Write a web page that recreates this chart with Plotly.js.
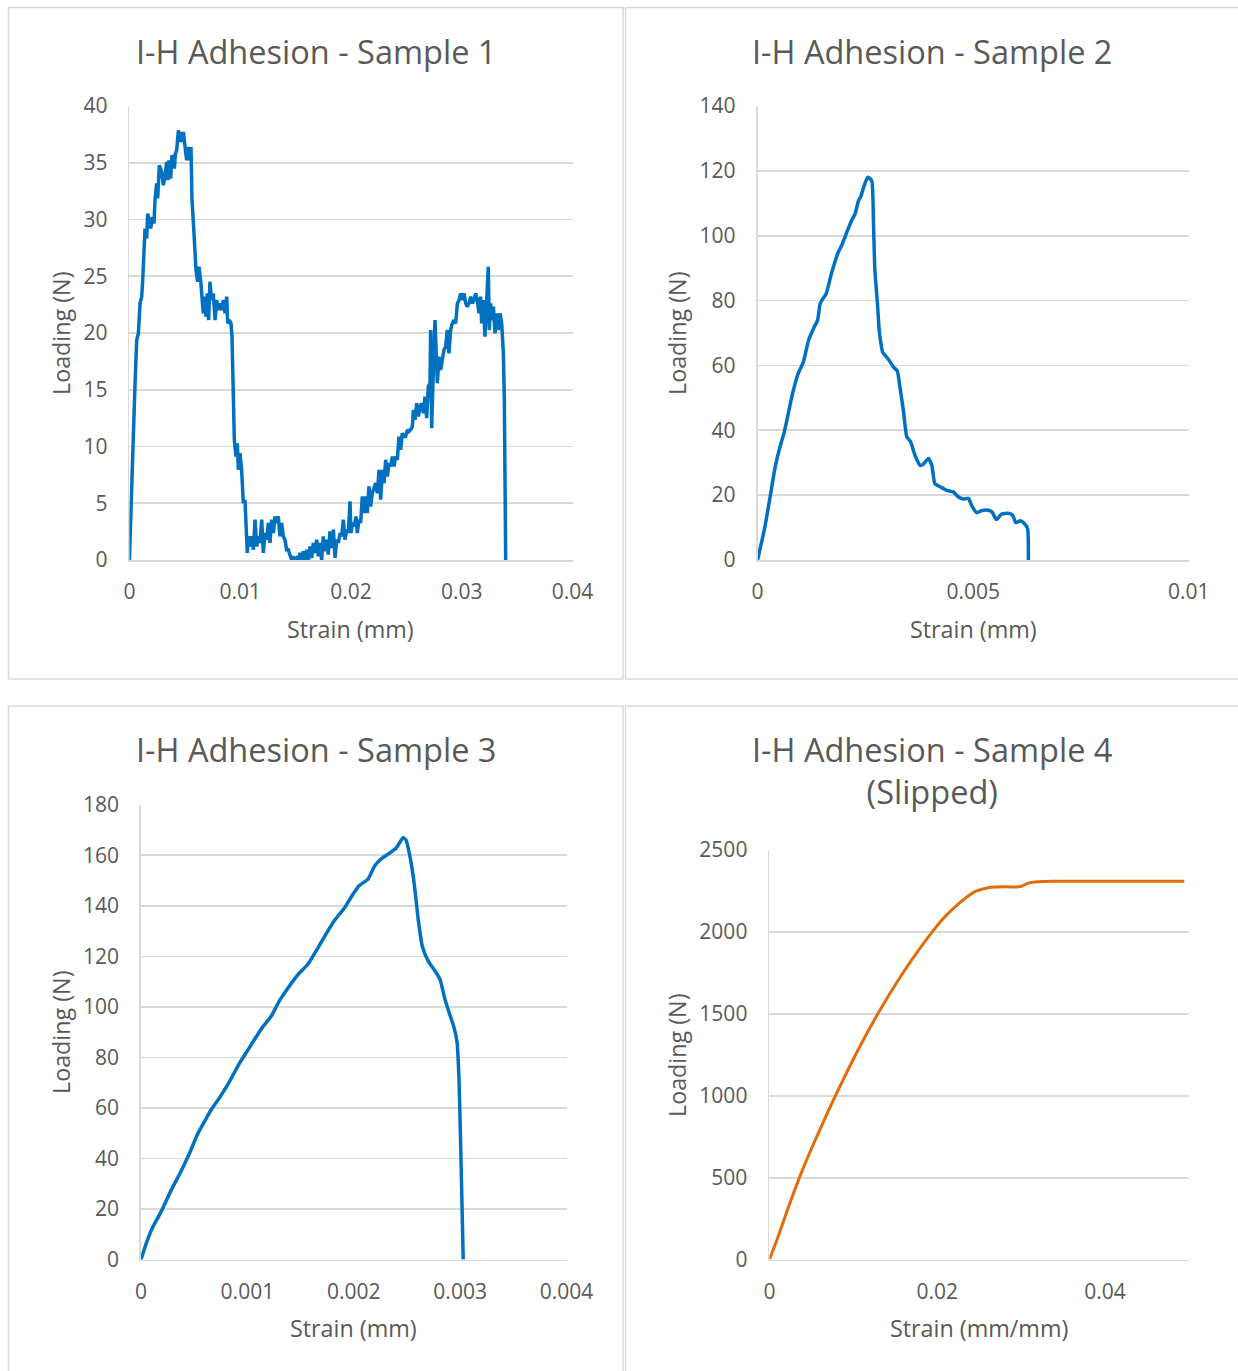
<!DOCTYPE html>
<html>
<head>
<meta charset="utf-8">
<script src="https://cdn.plot.ly/plotly-3.0.1.min.js"></script>
<style>
  html, body { margin: 0; padding: 0; background: #ffffff; }
  #chart { width: 1238px; height: 1371px; }
</style>
</head>
<body>
<div id="chart"></div>
<script>
// ---------------- DATA ----------------
const sample1Strain = [0, 0.00020, 0.00035, 0.00051, 0.00066, 0.00081, 0.00096, 0.00111, 0.00120, 0.00132, 0.00141, 0.00156, 0.00165, 0.00177, 0.00192, 0.00207, 0.00222, 0.00231, 0.00246, 0.00255, 0.00270, 0.00291, 0.00306, 0.00321, 0.00336, 0.00348, 0.00357, 0.00372, 0.00384, 0.00397, 0.00406, 0.00415, 0.00427, 0.00442, 0.00457, 0.00466, 0.00478, 0.00487, 0.00502, 0.00517, 0.00532, 0.00547, 0.00556, 0.00565, 0.00583, 0.00601, 0.00616, 0.00628, 0.00643, 0.00658, 0.00667, 0.00682, 0.00691, 0.00703, 0.00715, 0.00727, 0.00742, 0.00757, 0.00773, 0.00788, 0.00803, 0.00818, 0.00833, 0.00848, 0.00863, 0.00878, 0.00887, 0.00902, 0.00917, 0.00926, 0.00932, 0.00938, 0.00947, 0.00962, 0.00974, 0.00983, 0.00998, 0.01013, 0.01028, 0.01043, 0.01052, 0.01064, 0.01073, 0.01088, 0.01103, 0.01119, 0.01134, 0.01149, 0.01164, 0.01179, 0.01194, 0.01209, 0.01224, 0.01239, 0.01254, 0.01269, 0.01284, 0.01299, 0.01314, 0.01329, 0.01344, 0.01359, 0.01374, 0.01389, 0.01404, 0.01419, 0.01434, 0.01449, 0.01464, 0.01480, 0.01495, 0.01510, 0.01525, 0.01540, 0.01555, 0.01570, 0.01585, 0.01600, 0.01615, 0.01630, 0.01645, 0.01660, 0.01675, 0.01690, 0.01705, 0.01720, 0.01735, 0.01750, 0.01765, 0.01780, 0.01795, 0.01810, 0.01826, 0.01841, 0.01856, 0.01871, 0.01886, 0.01901, 0.01916, 0.01931, 0.01946, 0.01961, 0.01976, 0.01991, 0.02000, 0.02015, 0.02030, 0.02045, 0.02057, 0.02072, 0.02087, 0.02102, 0.02117, 0.02132, 0.02147, 0.02162, 0.02177, 0.02192, 0.02208, 0.02223, 0.02238, 0.02253, 0.02268, 0.02283, 0.02298, 0.02313, 0.02328, 0.02343, 0.02358, 0.02373, 0.02388, 0.02403, 0.02418, 0.02433, 0.02448, 0.02463, 0.02478, 0.02493, 0.02508, 0.02523, 0.02538, 0.02554, 0.02563, 0.02578, 0.02593, 0.02608, 0.02623, 0.02638, 0.02653, 0.02668, 0.02683, 0.02698, 0.02713, 0.02719, 0.02728, 0.02737, 0.02749, 0.02758, 0.02767, 0.02779, 0.02794, 0.02809, 0.02824, 0.02839, 0.02854, 0.02869, 0.02884, 0.02899, 0.02914, 0.02930, 0.02945, 0.02960, 0.02975, 0.02990, 0.03005, 0.03020, 0.03035, 0.03050, 0.03065, 0.03080, 0.03095, 0.03110, 0.03125, 0.03140, 0.03155, 0.03170, 0.03179, 0.03194, 0.03209, 0.03224, 0.03239, 0.03248, 0.03260, 0.03275, 0.03285, 0.03300, 0.03315, 0.03330, 0.03345, 0.03360, 0.03375, 0.03384, 0.03390, 0.03396];
const sample1Load = [0, 6.77, 10.88, 15.57, 19.38, 19.97, 22.61, 23.20, 24.66, 28.77, 29.21, 28.33, 30.53, 29.94, 29.21, 30.23, 29.65, 31.70, 33.17, 31.85, 34.78, 34.19, 33.02, 33.75, 35.07, 33.46, 35.22, 33.61, 35.66, 35.37, 34.49, 35.81, 36.10, 37.86, 36.83, 37.71, 36.83, 37.71, 36.69, 35.22, 36.39, 35.22, 36.39, 31.70, 28.77, 25.54, 24.52, 25.84, 24.66, 22.90, 21.73, 23.20, 21.44, 23.49, 21.14, 24.52, 22.90, 23.49, 21.14, 22.90, 22.02, 22.61, 22.02, 22.90, 21.73, 23.20, 20.85, 21.14, 20.85, 19.68, 17.04, 14.11, 10.59, 9.12, 10.29, 7.95, 9.41, 7.95, 5.01, 5.31, 2.96, 0.62, 2.08, 1.20, 2.08, 0.91, 3.55, 1.20, 2.08, 1.50, 3.55, 0.62, 2.38, 1.79, 3.26, 1.50, 3.55, 2.38, 3.84, 3.26, 3.84, 2.08, 3.26, 2.08, 1.79, 0.91, 0.91, 0.32, 0, 0.32, 0, 0.18, 0, 0.62, 0.03, 0.76, 0, 0.91, 0, 1.20, 0.18, 1.50, 0.62, 1.79, 0.32, 1.50, 0, 2.08, 0.76, 1.79, 0.47, 2.52, 1.06, 2.67, 0.18, 1.79, 1.50, 2.38, 2.08, 3.55, 1.79, 2.67, 2.38, 5.16, 2.38, 3.26, 2.96, 3.84, 2.38, 3.55, 3.26, 5.60, 4.13, 5.60, 4.13, 6.48, 4.72, 5.89, 6.48, 6.77, 5.89, 7.95, 5.31, 7.95, 6.77, 8.83, 7.36, 8.53, 8.24, 9.12, 8.24, 9.12, 8.83, 10.88, 9.71, 11.17, 10.88, 10.88, 11.47, 11.32, 11.47, 11.76, 13.23, 12.35, 13.81, 12.64, 13.52, 13.81, 12.93, 14.40, 12.49, 15.28, 15.57, 20.26, 11.61, 16.45, 18.80, 21.14, 17.92, 15.57, 17.92, 16.74, 17.62, 18.50, 18.80, 20.26, 18.21, 20.26, 20.85, 21.14, 20.85, 22.61, 22.90, 23.49, 22.90, 23.49, 22.61, 22.32, 22.61, 23.20, 22.61, 22.90, 23.49, 22.90, 21.73, 23.20, 20.85, 22.90, 19.68, 22.32, 25.84, 20.26, 22.61, 21.14, 22.32, 19.97, 21.73, 20.26, 21.73, 20.85, 18.21, 14.11, 8.24, 0];

const sample2Strain = [0, 0.00017, 0.00033, 0.00040, 0.00052, 0.00062, 0.00071, 0.00081, 0.00094, 0.00106, 0.00118, 0.00131, 0.00139, 0.00145, 0.00151, 0.00159, 0.00172, 0.00187, 0.00195, 0.00207, 0.00218, 0.00226, 0.00234, 0.00239, 0.00247, 0.00255, 0.00259, 0.00265, 0.00269, 0.00272, 0.00278, 0.00282, 0.00285, 0.00290, 0.00299, 0.00308, 0.00315, 0.00324, 0.00330, 0.00338, 0.00346, 0.00355, 0.00365, 0.00377, 0.00384, 0.00396, 0.00404, 0.00411, 0.00423, 0.00438, 0.00454, 0.00465, 0.00477, 0.00489, 0.00496, 0.00508, 0.00519, 0.00531, 0.00543, 0.00554, 0.00566, 0.00581, 0.00591, 0.00599, 0.00609, 0.00618, 0.00626, 0.00628];
const sample2Load = [0, 10.3, 22.6, 28.2, 34.9, 39.5, 45.1, 51.3, 57.5, 61.0, 67.7, 71.8, 73.9, 79.0, 80.5, 82.1, 88.7, 94.9, 97.0, 101.1, 104.7, 106.7, 110.8, 112.0, 115.4, 118.0, 117.8, 116.8, 102.6, 89.3, 79.0, 70.8, 67.7, 64.1, 62.6, 61.0, 59.5, 58.3, 53.4, 46.2, 38.0, 36.4, 32.3, 29.2, 29.5, 31.3, 29.2, 23.6, 22.6, 21.5, 21.0, 19.5, 18.8, 19.0, 16.9, 14.6, 15.2, 15.4, 14.9, 12.5, 14.2, 14.4, 13.9, 11.5, 12.1, 11.3, 9.7, 0];

const sample3Strain = [0, 0.0000537, 0.000111, 0.000188, 0.000284, 0.000380, 0.000457, 0.000534, 0.000591, 0.000668, 0.000745, 0.000822, 0.000917, 0.001013, 0.001129, 0.001225, 0.001301, 0.001397, 0.001474, 0.001570, 0.001666, 0.001743, 0.001820, 0.001916, 0.001992, 0.002050, 0.002134, 0.002196, 0.002261, 0.002338, 0.002395, 0.002434, 0.002464, 0.002491, 0.002530, 0.002568, 0.002607, 0.002645, 0.002703, 0.002760, 0.002810, 0.002856, 0.002894, 0.002941, 0.002971, 0.002990, 0.003010, 0.003029];
const sample3Load = [0, 6.9, 12.9, 18.9, 27.5, 35.3, 42.2, 49.9, 54.2, 59.9, 64.5, 69.7, 77.1, 83.5, 91.2, 96.4, 102.4, 108.4, 112.7, 117.0, 123.6, 129.1, 134.3, 139.4, 144.6, 148.0, 150.6, 155.8, 158.7, 160.9, 162.7, 165.2, 167.0, 166.1, 159.2, 148.9, 134.3, 123.9, 117.9, 114.5, 111.0, 103.3, 98.1, 92.1, 86.1, 70.6, 36.1, 0];

const sample4Strain = [0, 0.00099, 0.00216, 0.00381, 0.00569, 0.00758, 0.00946, 0.01134, 0.01322, 0.01511, 0.01699, 0.01887, 0.02075, 0.02264, 0.02452, 0.02569, 0.02640, 0.02828, 0.02969, 0.03016, 0.03087, 0.03205, 0.03393, 0.03864, 0.04334, 0.04946];
const sample4Load = [0, 133, 305, 531, 756, 969, 1168, 1354, 1526, 1685, 1831, 1964, 2083, 2176, 2246, 2265, 2272, 2275, 2275, 2281, 2298, 2306, 2309, 2310, 2309, 2310];

const chartTitles = ["I-H Adhesion - Sample 1", "I-H Adhesion - Sample 2", "I-H Adhesion - Sample 3", "I-H Adhesion - Sample 4<br>(Slipped)"];
const xTitles = ["Strain (mm)", "Strain (mm)", "Strain (mm)", "Strain (mm/mm)"];
const yTitle = "Loading (N)";

// ---------------- LAYOUT HELPERS ----------------
const W = 1238, H = 1371;
const px = v => v / W;
const py = v => 1 - v / H;

const BLUE = "#0070C0";
const ORANGE = "#E36C0A";
const GRID = "#d9d9d9";
const TXT = "#595959";
const FONT = "Open Sans, sans-serif";

function xAxis(left, right, range, dtick) {
  return {
    domain: [px(left), px(right)], range: range, dtick: dtick, tick0: 0,
    showgrid: false, zeroline: false, showline: true, linecolor: GRID, linewidth: 1.8,
    ticks: "", ticklabelstandoff: 12,
    tickfont: {family: FONT, size: 21, color: TXT}, fixedrange: true
  };
}
function yAxis(top, bottom, range, dtick) {
  return {
    domain: [py(bottom), py(top)], range: range, dtick: dtick, tick0: 0,
    showgrid: true, gridcolor: GRID, gridwidth: 1.8, zeroline: false,
    showline: true, linecolor: GRID, linewidth: 1.8,
    ticks: "", ticklabelstandoff: 16,
    tickfont: {family: FONT, size: 21, color: TXT}, fixedrange: true
  };
}

const traces = [
  {x: sample1Strain, y: sample1Load, xaxis: "x", yaxis: "y", type: "scatter", mode: "lines",
   line: {color: BLUE, width: 3.5}, name: "Sample 1"},
  {x: sample2Strain, y: sample2Load, xaxis: "x2", yaxis: "y2", type: "scatter", mode: "lines",
   line: {color: BLUE, width: 3.5, shape: "spline", smoothing: 0.5}, name: "Sample 2"},
  {x: sample3Strain, y: sample3Load, xaxis: "x3", yaxis: "y3", type: "scatter", mode: "lines",
   line: {color: BLUE, width: 3.5, shape: "spline", smoothing: 0.5}, name: "Sample 3"},
  {x: sample4Strain, y: sample4Load, xaxis: "x4", yaxis: "y4", type: "scatter", mode: "lines",
   line: {color: ORANGE, width: 3, shape: "spline", smoothing: 0.6}, name: "Sample 4"}
];

function ann(text, x, y, size, angle) {
  return {text: text, x: px(x), y: py(y), xref: "paper", yref: "paper",
          xanchor: "center", yanchor: "middle", showarrow: false,
          textangle: angle || 0, font: {family: FONT, size: size, color: TXT}};
}

function border(x0, y0, x1, y1) {
  return {type: "rect", xref: "paper", yref: "paper", x0: x0, y0: y0, x1: x1, y1: y1,
          line: {color: GRID, width: 1.5}, fillcolor: "rgba(0,0,0,0)", layer: "below"};
}

const layout = {
  width: W, height: H,
  margin: {l: 0, r: 0, t: 0, b: 0, pad: 0},
  paper_bgcolor: "#ffffff", plot_bgcolor: "rgba(0,0,0,0)",
  showlegend: false,
  font: {family: FONT, color: TXT},
  xaxis:  Object.assign(xAxis(129.4, 572.6, [0, 0.04], 0.01), {anchor: "y"}),
  yaxis:  Object.assign(yAxis(106, 560, [0, 40], 5), {anchor: "x"}),
  xaxis2: Object.assign(xAxis(757.6, 1188.8, [0, 0.01], 0.005), {anchor: "y2"}),
  yaxis2: Object.assign(yAxis(106, 560, [0, 140], 20), {anchor: "x2"}),
  xaxis3: Object.assign(xAxis(141, 566.5, [0, 0.004], 0.001), {anchor: "y3"}),
  yaxis3: Object.assign(yAxis(804.8, 1259.6, [0, 180], 20), {anchor: "x3"}),
  xaxis4: Object.assign(xAxis(769.4, 1188.8, [0, 0.05], 0.02), {anchor: "y4"}),
  yaxis4: Object.assign(yAxis(850, 1259.6, [0, 2500], 500), {anchor: "x4"}),
  annotations: [
    ann(chartTitles[0], 316, 52, 32.5),
    ann(chartTitles[1], 932, 52, 32.5),
    ann(chartTitles[2], 316, 750, 32.5),
    ann(chartTitles[3], 932, 771, 32.5),
    ann(xTitles[0], 350.5, 629, 23.3),
    ann(xTitles[1], 973, 629, 23.3),
    ann(xTitles[2], 353.8, 1328, 23.3),
    ann(xTitles[3], 979, 1328, 23.3),
    ann(yTitle, 61, 333, 23.3, -90),
    ann(yTitle, 677, 333, 23.3, -90),
    ann(yTitle, 61, 1032, 23.3, -90),
    ann(yTitle, 677, 1055, 23.3, -90)
  ],
  shapes: [
    border(px(8.5), py(679), px(623), py(7.5)),
    border(px(625.5), py(679), 1.01, py(7.5)),
    border(px(8.5), -0.01, px(623), py(706)),
    border(px(625.5), -0.01, 1.01, py(706))
  ]
};

Plotly.newPlot("chart", traces, layout, {staticPlot: true, displayModeBar: false});
</script>
</body>
</html>
